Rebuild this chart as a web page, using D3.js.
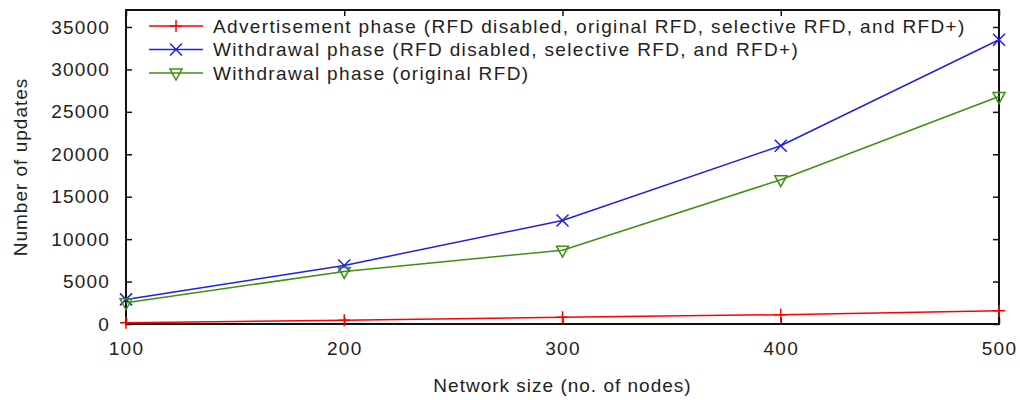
<!DOCTYPE html>
<html>
<head>
<meta charset="utf-8">
<script src="https://cdn.jsdelivr.net/npm/d3@7"></script>
<style>
  body { margin: 0; background: #fff; }
  text { font-family: "Liberation Sans", Arial, sans-serif; fill: #222; }
</style>
</head>
<body>
<div id="chart"></div>
<script>
// data
const nodes = [100, 200, 300, 400, 500];
const advertAll = [150, 450, 800, 1100, 1550];
const withdrawNoOrig = [2900, 6900, 12200, 21000, 33500];
const withdrawOrig = [2500, 6200, 8700, 17000, 26800];
const seriesNames = [
  "Advertisement phase (RFD disabled, original RFD, selective RFD, and RFD+)",
  "Withdrawal phase (RFD disabled, selective RFD, and RFD+)",
  "Withdrawal phase (original RFD)"
];
const xTicks = [100, 200, 300, 400, 500];
const yTicks = [0, 5000, 10000, 15000, 20000, 25000, 30000, 35000];

const width = 1020, height = 400;
const plotL = 126, plotR = 999, plotT = 10, plotB = 324;

const svg = d3.select("#chart").append("svg")
  .attr("width", width)
  .attr("height", height);

const x = d3.scaleLinear().domain([100, 500]).range([plotL, plotR]);
const y = d3.scaleLinear().domain([0, 37000]).range([plotB, plotT]);

const series = [
  {name: seriesNames[0], values: advertAll, color: "#ff0000", marker: "plus"},
  {name: seriesNames[1], values: withdrawNoOrig, color: "#1f1fe6", marker: "cross"},
  {name: seriesNames[2], values: withdrawOrig, color: "#3f8f16", marker: "tri"}
];

// axes with inward ticks, mirrored on top/right
const tickLen = 6;
const fmt = d3.format("d");
const axB = svg.append("g").attr("transform", `translate(0,${plotB})`)
  .call(d3.axisBottom(x).tickValues(xTicks).tickFormat(fmt).tickSizeInner(-tickLen).tickSizeOuter(0).tickPadding(18));
const axL = svg.append("g").attr("transform", `translate(${plotL},0)`)
  .call(d3.axisLeft(y).tickValues(yTicks).tickFormat(fmt).tickSizeInner(-tickLen).tickSizeOuter(0).tickPadding(16));
const axT = svg.append("g").attr("transform", `translate(0,${plotT})`)
  .call(d3.axisTop(x).tickValues(xTicks).tickSizeInner(-tickLen).tickSizeOuter(0).tickFormat(""));
const axR = svg.append("g").attr("transform", `translate(${plotR},0)`)
  .call(d3.axisRight(y).tickValues(yTicks).tickSizeInner(-tickLen).tickSizeOuter(0).tickFormat(""));

[axB, axL, axT, axR].forEach(g => {
  g.select(".domain").remove();
  g.selectAll(".tick line").attr("stroke", "#111").attr("stroke-width", 1.5);
  g.selectAll(".tick text")
    .style("font-size", "19px")
    .style("letter-spacing", "1.2px")
    .attr("fill", "#222");
});

svg.append("rect")
  .attr("x", plotL).attr("y", plotT)
  .attr("width", plotR - plotL).attr("height", plotB - plotT)
  .attr("fill", "none").attr("stroke", "#111").attr("stroke-width", 2);

// axis titles
svg.append("text")
  .attr("x", (plotL + plotR) / 2).attr("y", 392)
  .attr("text-anchor", "middle")
  .style("font-size", "19px")
  .style("letter-spacing", "1px")
  .text("Network size (no. of nodes)");

svg.append("text")
  .attr("transform", `translate(27,${(plotT + plotB) / 2}) rotate(-90)`)
  .attr("text-anchor", "middle")
  .style("font-size", "19px")
  .style("letter-spacing", "1px")
  .text("Number of updates");

function drawMarker(g, type, cx, cy, color) {
  if (type === "plus") {
    g.append("path").attr("d", `M${cx - 6},${cy}H${cx + 6}M${cx},${cy - 6}V${cy + 6}`)
      .attr("stroke", color).attr("stroke-width", 1.5).attr("fill", "none");
  } else if (type === "cross") {
    g.append("path").attr("d", `M${cx - 6},${cy - 6}L${cx + 6},${cy + 6}M${cx - 6},${cy + 6}L${cx + 6},${cy - 6}`)
      .attr("stroke", color).attr("stroke-width", 1.5).attr("fill", "none");
  } else {
    g.append("path").attr("d", `M${cx - 6},${cy - 4}H${cx + 6}L${cx},${cy + 7}Z`)
      .attr("stroke", color).attr("stroke-width", 1.5).attr("fill", "none");
  }
}

const line = d3.line().x((d, i) => x(nodes[i])).y(d => y(d));

series.forEach(s => {
  const g = svg.append("g");
  g.append("path")
    .attr("d", line(s.values))
    .attr("fill", "none")
    .attr("stroke", s.color)
    .attr("stroke-width", 1.5);
  s.values.forEach((v, i) => drawMarker(g, s.marker, x(nodes[i]), y(v), s.color));
});

// legend
const legend = svg.append("g");
series.forEach((s, i) => {
  const ly = 26 + i * 23.5;
  legend.append("line")
    .attr("x1", 149).attr("x2", 203).attr("y1", ly).attr("y2", ly)
    .attr("stroke", s.color).attr("stroke-width", 1.5);
  drawMarker(legend, s.marker, 176, ly, s.color);
  legend.append("text")
    .attr("x", 213).attr("y", ly).attr("dy", "0.35em")
    .style("font-size", "19px")
    .style("letter-spacing", "1.35px")
    .text(s.name);
});
</script>
</body>
</html>
